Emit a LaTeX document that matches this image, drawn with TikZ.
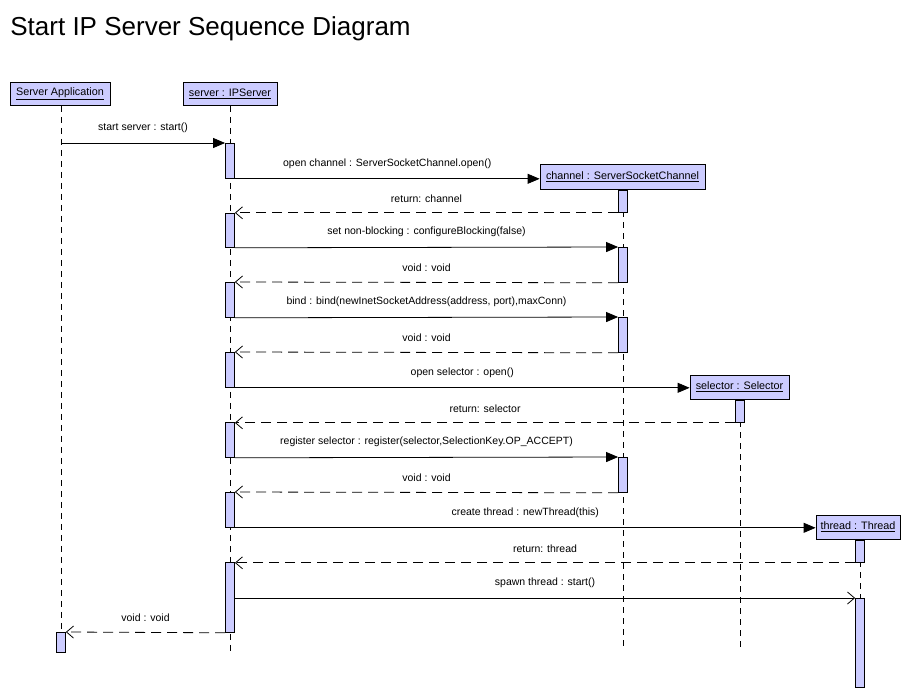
\documentclass[tikz,border=0pt]{standalone}
\usepackage{fontspec}
\setmainfont{Liberation Sans}
\usetikzlibrary{arrows.meta,positioning,calc}
\definecolor{lav}{RGB}{204,204,255}

\begin{document}
\begin{tikzpicture}[
  x=1pt,y=-1pt,line width=0.8pt,font=\fontsize{10.5}{12}\selectfont,
  head/.style={draw,fill=lav,inner sep=0pt,minimum height=23pt,font=\fontsize{10.8}{12}\selectfont},
  act/.style={draw,fill=lav,inner sep=0pt,minimum width=9pt,minimum height=#1,anchor=north},
  life/.style={dash pattern=on 6pt off 5pt},
  sync/.style={-{Triangle[length=12pt,width=10pt]}},
  ret/.style={-{Straight Barb[length=7pt,width=12pt]},dash pattern=on 10pt off 6pt},
  async/.style={-{Straight Barb[length=7pt,width=12pt]}},
  lbl/.style={midway,above=10pt,inner sep=0pt}]
  \useasboundingbox (0,0) rectangle (920,698);
  \node[anchor=west,inner sep=0pt,font=\fontsize{26}{30}\selectfont] (title) at (10,29) {Start IP Server Sequence Diagram};
  % lifeline heads
  \node[head,minimum width=100pt] (app) at (60,94) {\underline{Server Application}};
  \node[head,minimum width=94pt] (srv) at (230,94) {\underline{server : IPServer}};
  \node[head,minimum width=165pt,minimum height=25pt] (chan) at (622.5,176.5) {\underline{channel : ServerSocketChannel}};
  \node[head,minimum width=99pt,minimum height=24pt] (sel) at (739.5,387) {\underline{selector : Selector}};
  \node[head,minimum width=84pt,minimum height=24pt] (thr) at (858,527) {\underline{thread : Thread}};
  % lifelines
  \coordinate (appEnd) at (61,652);
  \coordinate (srvEnd) at (230,652);
  \coordinate (chanEnd) at (623,650);
  \coordinate (selEnd) at (740,650);
  \coordinate (thrEnd) at (860,687);
  \draw[life] (app.south -| appEnd) -- (appEnd);
  \draw[life] (srv.south -| srvEnd) -- (srvEnd);
  \draw[life] (chan.south -| chanEnd) -- (chanEnd);
  \draw[life] (sel.south -| selEnd) -- (selEnd);
  \draw[life] (thr.south -| thrEnd) -- (thrEnd);
  % activations
  \node[act=35pt] (s1) at (230,143) {};
  \node[act=34pt] (s2) at (230,213) {};
  \node[act=35pt] (s3) at (230,282) {};
  \node[act=35pt] (s4) at (230,352) {};
  \node[act=35pt] (s5) at (230,422) {};
  \node[act=35pt] (s6) at (230,492) {};
  \node[act=70pt] (s7) at (230,562) {};
  \node[act=22pt] (c1) at (623,190) {};
  \node[act=35pt] (c2) at (623,247) {};
  \node[act=35pt] (c3) at (623,317) {};
  \node[act=35pt] (c4) at (623,457) {};
  \node[act=22pt] (l1) at (740,400) {};
  \node[act=22pt] (t1) at (860,540) {};
  \node[act=89pt] (t2) at (860,598) {};
  \node[act=20pt] (a1) at (61,632) {};
  % messages
  \coordinate (appMsg) at (61,143);
  \draw[sync] (appMsg) -- (s1.north west) node[lbl] {start server : start()};
  \draw[sync] (s1.south east) -- (s1.south east -| chan.west) node[lbl] {open channel : ServerSocketChannel.open()};
  \draw[ret] (c1.south west) -- (c1.south west -| s2.east) node[lbl] {return: channel};
  \draw[sync] (s2.south east) -- (c2.north west) node[lbl] {set non-blocking : configureBlocking(false)};
  \draw[ret] (c2.south west) -- (s3.north east) node[lbl] {void : void};
  \draw[sync] (s3.south east) -- (c3.north west) node[lbl] {bind : bind(newInetSocketAddress(address, port),maxConn)};
  \draw[ret] (c3.south west) -- (s4.north east) node[lbl] {void : void};
  \draw[sync] (s4.south east) -- (s4.south east -| sel.west) node[lbl] {open selector : open()};
  \draw[ret] (l1.south west) -- (l1.south west -| s5.east) node[lbl] {return: selector};
  \draw[sync] (s5.south east) -- (c4.north west) node[lbl] {register selector : register(selector,SelectionKey.OP\_ACCEPT)};
  \draw[ret] (c4.south west) -- (s6.north east) node[lbl] {void : void};
  \draw[sync] (s6.south east) -- (s6.south east -| thr.west) node[lbl] {create thread : newThread(this)};
  \draw[ret] (t1.south west) -- (t1.south west -| s7.east) node[lbl] {return: thread};
  \draw[async] (s7.east |- t2.north) -- (t2.north west) node[lbl] {spawn thread : start()};
  \draw[ret] (s7.south west) -- (a1.north east) node[lbl] {void : void};
\end{tikzpicture}
\end{document}
